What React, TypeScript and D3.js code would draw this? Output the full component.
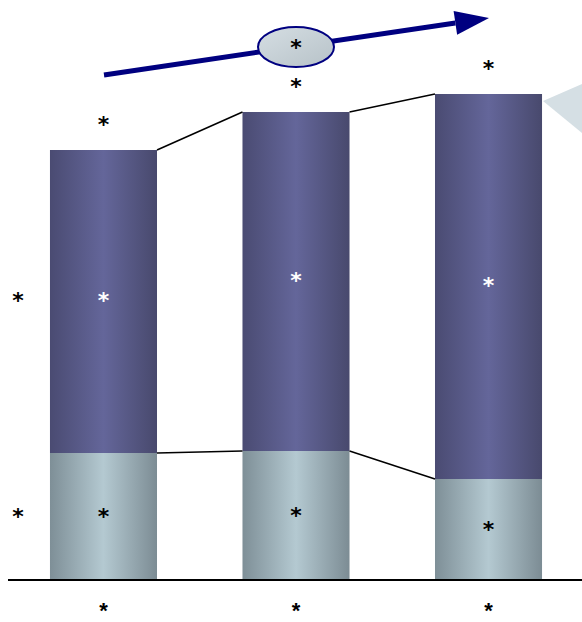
import React from "react";
import * as d3 from "d3";

const categories = ["*", "*", "*"];
const baseValues = [127, 129, 101];
const topValues = [303, 339, 385];
const totalLabels = ["*", "*", "*"];
const topLabels = ["*", "*", "*"];
const baseLabels = ["*", "*", "*"];
const seriesLabels = ["*", "*"];
const trendLabel = "*";

const W = 582;
const H = 622;

export default function App() {
  const x = d3
    .scaleBand()
    .domain(d3.range(categories.length).map(String))
    .range([8, 584])
    .paddingInner(0.444)
    .paddingOuter(0.218);
  const y = d3.scaleLinear().domain([0, 500]).range([580, 80]);
  const bw = x.bandwidth();
  const font = "DejaVu Sans, sans-serif";

  const bars = categories.map((c, i) => {
    const x0 = x(String(i))!;
    const base = baseValues[i];
    const total = base + topValues[i];
    return { i, x0, x1: x0 + bw, cx: x0 + bw / 2, yBase: y(base), yTotal: y(total), y0: y(0) };
  });

  const star = (txt: string, px: number, py: number, fill: string, key: string) => (
    <text key={key} x={px} y={py + 10} textAnchor="middle" fontFamily={font} fontSize={22} fontWeight="bold" fill={fill}>
      {txt}
    </text>
  );

  // trend arrow
  const ax0 = 104, ay0 = 75, ax1 = 489, ay1 = 18;
  const ang = Math.atan2(ay1 - ay0, ax1 - ax0);
  const headLen = 34, headW = 12;
  const bx = ax1 - headLen * Math.cos(ang), by = ay1 - headLen * Math.sin(ang);
  const nx = -Math.sin(ang), ny = Math.cos(ang);

  return (
    <svg width={W} height={H} style={{ position: "absolute", left: 0, top: 0 }}>
      <defs>
        <linearGradient id="gTop" x1="0" x2="1" y1="0" y2="0">
          <stop offset="0" stopColor="#4a4b72" />
          <stop offset="0.5" stopColor="#64669a" />
          <stop offset="1" stopColor="#48496d" />
        </linearGradient>
        <linearGradient id="gBase" x1="0" x2="1" y1="0" y2="0">
          <stop offset="0" stopColor="#7e8f97" />
          <stop offset="0.5" stopColor="#b4c9d1" />
          <stop offset="1" stopColor="#7c8c94" />
        </linearGradient>
        <linearGradient id="gEll" x1="0" x2="1" y1="0" y2="1">
          <stop offset="0" stopColor="#d5dee3" />
          <stop offset="1" stopColor="#b7c2c8" />
        </linearGradient>
      </defs>

      {/* callout pointer on the right */}
      <polygon points="543,101 582,84 582,133" fill="#d5dfe4" />

      {bars.map((b) => (
        <g key={b.i}>
          <rect x={b.x0} y={b.yTotal} width={bw} height={b.yBase - b.yTotal} fill="url(#gTop)" />
          <rect x={b.x0} y={b.yBase} width={bw} height={b.y0 - b.yBase} fill="url(#gBase)" />
        </g>
      ))}

      {/* connector lines between stacked segments */}
      {bars.slice(0, -1).map((b, k) => {
        const n = bars[k + 1];
        return (
          <g key={"c" + k} stroke="#000" strokeWidth={1.5}>
            <line x1={b.x1} y1={b.yTotal} x2={n.x0} y2={n.yTotal} />
            <line x1={b.x1} y1={b.yBase} x2={n.x0} y2={n.yBase} />
          </g>
        );
      })}

      <line x1={8} x2={582} y1={y(0)} y2={y(0)} stroke="#000" strokeWidth={2} />

      {bars.map((b) => (
        <g key={"l" + b.i}>
          {star(totalLabels[b.i], b.cx, b.yTotal - 28, "#000", "t")}
          {star(topLabels[b.i], b.cx, (b.yTotal + b.yBase) / 2 - 4, "#fff", "m")}
          {star(baseLabels[b.i], b.cx, (b.yBase + b.y0) / 2 - 3, "#000", "b")}
          <text x={b.cx} y={618} textAnchor="middle" fontFamily="Liberation Sans, sans-serif" fontSize={22} fontWeight="bold" fill="#000">
            {categories[b.i]}
          </text>
        </g>
      ))}
      {star(seriesLabels[1], 18, (bars[0].yTotal + bars[0].yBase) / 2 - 4, "#000", "s1")}
      {star(seriesLabels[0], 18, (bars[0].yBase + bars[0].y0) / 2 - 3, "#000", "s0")}

      {/* trend arrow */}
      <line x1={ax0} y1={ay0} x2={bx} y2={by} stroke="#000080" strokeWidth={5} />
      <polygon
        points={`${ax1},${ay1} ${bx + nx * headW},${by + ny * headW} ${bx - nx * headW},${by - ny * headW}`}
        fill="#000080"
      />
      <ellipse cx={296} cy={47} rx={38} ry={20} fill="url(#gEll)" stroke="#000080" strokeWidth={2} />
      {star(trendLabel, 296, 45, "#000", "e1")}
    </svg>
  );
}
